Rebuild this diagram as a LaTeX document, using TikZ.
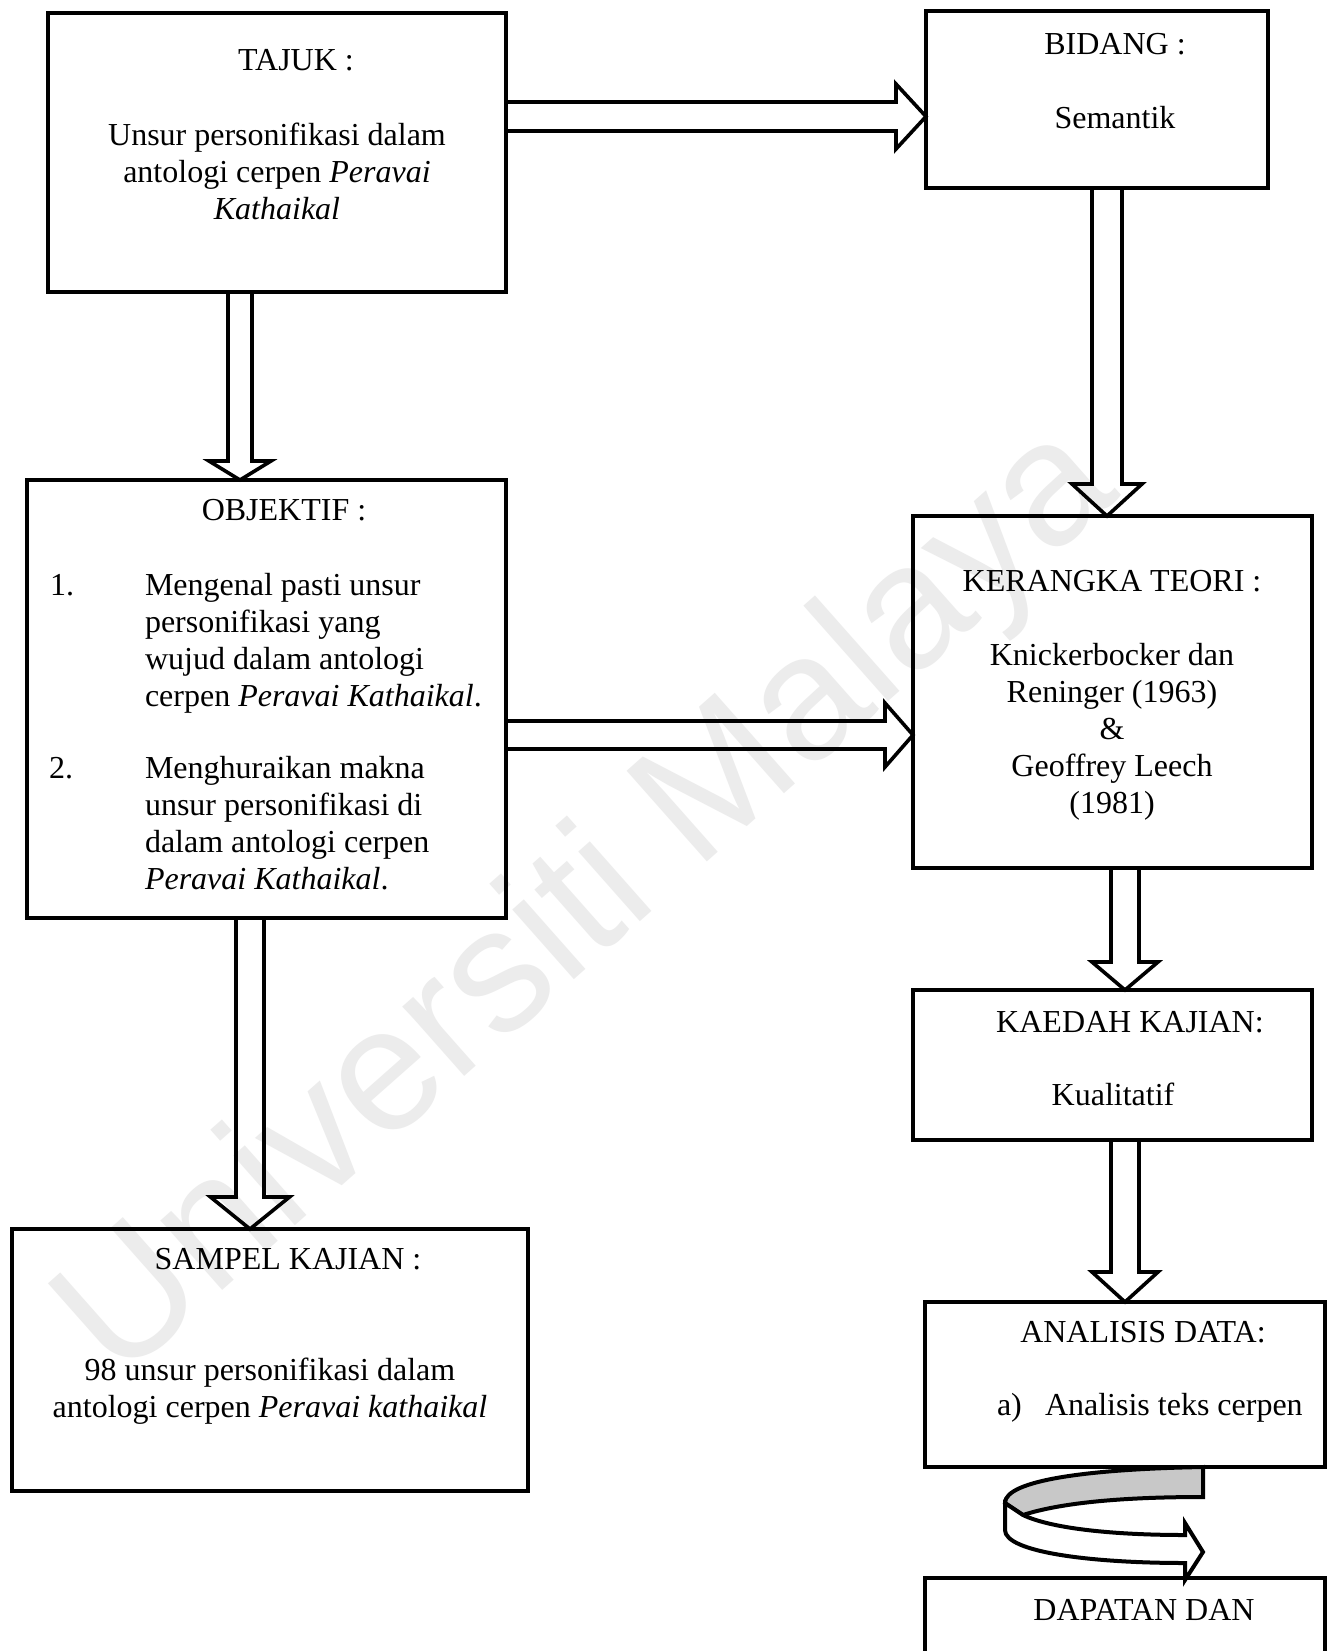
\documentclass[tikz,border=0pt]{standalone}
\usepackage{fontspec}
\setmainfont{Liberation Serif}
\newfontfamily\wmfont{Liberation Sans}
\usetikzlibrary{calc}
\definecolor{foldgray}{RGB}{200,200,200}
\definecolor{wmgray}{RGB}{236,236,236}
\newcommand\mlines[1]{\begin{tabular}[t]{@{}c@{}}#1\end{tabular}}
\newcommand\llines[1]{\begin{tabular}[t]{@{}l@{}}#1\end{tabular}}
% box: name, x1, y1, x2, y2 (px)
\newcommand\boxnode[5]{\node[box, minimum width={(#4-#2)*0.5pt}, minimum height={(#5-#3)*0.5pt}] (#1) at ({(#2+#4)/2},{(#3+#5)/2}) {};}
% vertical block arrow: x, from, to, half shaft, half head, head length (px)
\newcommand\vblock[6]{%
  \path (#1,0 |- #2) coordinate (vs) (#1,0 |- #3) coordinate (ve);
  \draw[blk] ([xshift=-#4*0.5pt]vs) -- ([xshift=-#4*0.5pt, yshift=#6*0.5pt]ve) -- ([xshift=-#5*0.5pt, yshift=#6*0.5pt]ve) -- (ve) -- ([xshift=#5*0.5pt, yshift=#6*0.5pt]ve) -- ([xshift=#4*0.5pt, yshift=#6*0.5pt]ve) -- ([xshift=#4*0.5pt]vs);}
% horizontal block arrow: y, from, to, half shaft, half head, head length (px)
\newcommand\hblock[6]{%
  \path (#2 |- 0,#1) coordinate (hs) (#3 |- 0,#1) coordinate (he);
  \draw[blk] ([yshift=#4*0.5pt]hs) -- ([xshift=-#6*0.5pt, yshift=#4*0.5pt]he) -- ([xshift=-#6*0.5pt, yshift=#5*0.5pt]he) -- (he) -- ([xshift=-#6*0.5pt, yshift=-#5*0.5pt]he) -- ([xshift=-#6*0.5pt, yshift=-#4*0.5pt]he) -- ([yshift=-#4*0.5pt]hs);}
\begin{document}
\begin{tikzpicture}[x=0.5pt, y=-0.5pt, font=\fontsize{16}{18.5}\selectfont,
  box/.style={draw, line width=2pt, rectangle, inner sep=0pt, outer sep=0pt},
  blk/.style={draw, line width=1.8pt, line join=miter},
  txt/.style={anchor=base, inner sep=0pt, outer sep=0pt},
  ltxt/.style={anchor=base west, inner sep=0pt, outer sep=0pt},
  curv/.style={line width=2pt, line join=miter}]
\useasboundingbox (0,0) rectangle (1333,1651);
\clip (0,0) rectangle (1333,1651);
\fill[white] (0,0) rectangle (1333,1651);
% watermark
\node[rotate=41.5, text=wmgray, font=\wmfont\fontsize{88}{88}\selectfont, inner sep=0pt] (wmark) at (590,905) {Universiti Malaya};
% boxes
\boxnode{tajuk}{48}{13}{506}{292}
\boxnode{bidang}{926}{11}{1268}{188}
\boxnode{obj}{27}{480}{506}{918}
\boxnode{ker}{913}{516}{1312}{868}
\boxnode{kaedah}{913}{990}{1312}{1140}
\boxnode{sampel}{12}{1229}{528}{1491}
\boxnode{ana}{925}{1302}{1325}{1467}
\boxnode{dap}{925}{1578}{1325}{1720}
% block arrows
\hblock{116.5}{tajuk.east}{bidang.west}{14.5}{32.5}{30}
\hblock{735}{obj.east}{ker.west}{14}{32}{28}
\vblock{240}{tajuk.south}{obj.north}{12}{31}{19}
\vblock{1107}{bidang.south}{ker.north}{15}{35}{32}
\vblock{1125}{ker.south}{kaedah.north}{14}{33}{28}
\vblock{1125}{kaedah.south}{ana.north}{14}{33}{30}
\vblock{250}{obj.south}{sampel.north}{14}{39.5}{32}
% curved arrow from ANALISIS DATA to DAPATAN
\filldraw[curv, fill=foldgray] (1203,1467) .. controls (1090,1469) and (1005,1480) .. (1005,1503) -- (1023,1515) .. controls (1060,1503) and (1120,1497) .. (1203,1497) -- cycle;
\filldraw[curv, fill=white] (1005,1503) -- (1023,1515) .. controls (1050,1528) and (1110,1535) .. (1185,1535) -- (1185,1523) -- (1203,1552) -- (1185,1580) -- (1185,1563) .. controls (1090,1563) and (1005,1552) .. (1005,1530) -- cycle;
% texts
\node[txt] (t1) at (296,70) {TAJUK :};
\node[txt] (t2) at (277,145) {\mlines{Unsur personifikasi dalam\\ antologi cerpen \textit{Peravai}\\ \textit{Kathaikal}}};
\node[txt] (t3) at (1115,54) {\mlines{BIDANG :\\ \\ Semantik}};
\node[txt] (t4) at (284,520) {OBJEKTIF :};
\node[ltxt] (n1) at (50,595) {1.};
\node[ltxt] (i1) at (145,595) {\llines{Mengenal pasti unsur\\ personifikasi yang\\ wujud dalam antologi\\ cerpen \textit{Peravai Kathaikal}.}};
\node[ltxt] (n2) at (49,778) {2.};
\node[ltxt] (i2) at (145,778) {\llines{Menghuraikan makna\\ unsur personifikasi di\\ dalam antologi cerpen\\ \textit{Peravai Kathaikal}.}};
\node[txt] (t5) at (1112,591) {\mlines{KERANGKA TEORI :\\ \\ Knickerbocker dan\\ Reninger (1963)\\ \&\\ Geoffrey Leech\\ (1981)}};
\node[txt] (t6) at (1130,1032) {KAEDAH KAJIAN:};
\node[txt] (t7) at (1113,1105) {Kualitatif};
\node[txt] (t8) at (1143,1342) {ANALISIS DATA:};
\node[ltxt] (t9) at (997,1415) {a)};
\node[ltxt] (t10) at (1045,1415) {Analisis teks cerpen};
\node[txt] (t11) at (288,1269) {SAMPEL KAJIAN :};
\node[txt] (t12) at (270,1380) {\mlines{98 unsur personifikasi dalam\\ antologi cerpen \textit{Peravai kathaikal}}};
\node[txt] (t13) at (1144,1620) {DAPATAN DAN};
\end{tikzpicture}
\end{document}
